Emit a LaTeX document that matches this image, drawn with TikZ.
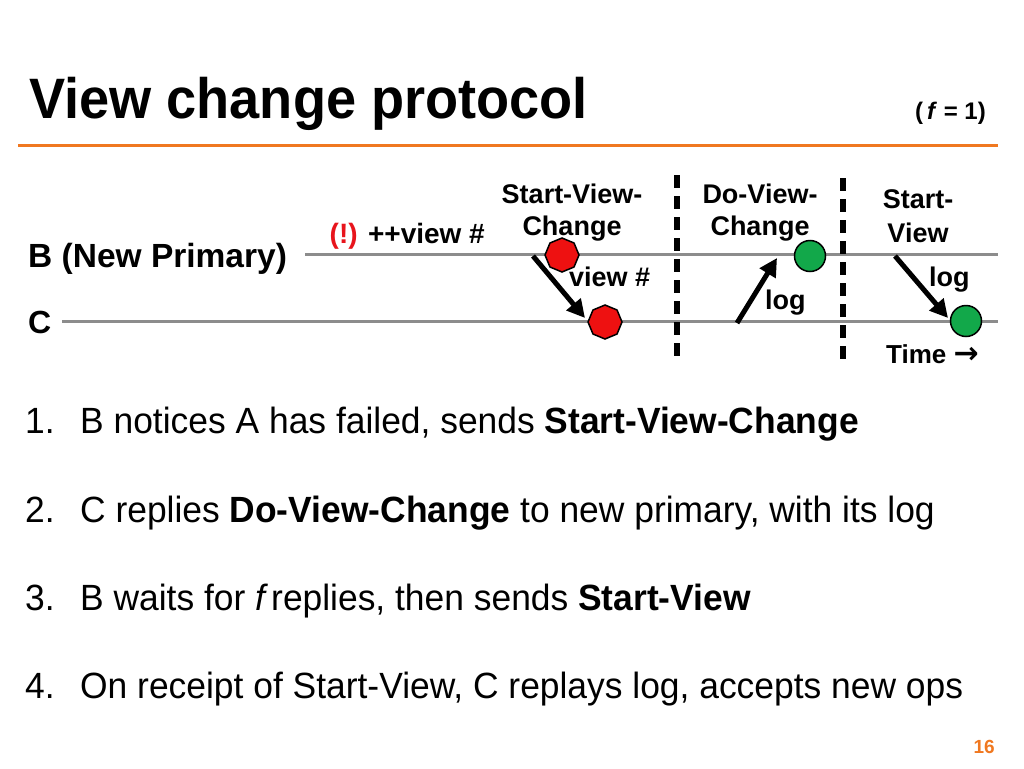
\documentclass[tikz,border=0pt]{standalone}
\usepackage{fontspec}
\setmainfont{Liberation Sans}
\newfontfamily\titlefont{Liberation Sans}[FakeStretch=0.95]
\newfontfamily\listfont{Liberation Sans}[FakeStretch=0.97]
\newfontfamily\arrowfont{DejaVu Sans}
\usetikzlibrary{arrows.meta,shapes.geometric}
\definecolor{orng}{HTML}{F07820}
\definecolor{lgrey}{HTML}{8C8C8C}
\definecolor{stopred}{HTML}{EE1111}
\definecolor{okgreen}{HTML}{12A84A}
\definecolor{bangred}{HTML}{E8141C}
\tikzset{
  lbl/.style={font=\fontsize{27}{32}\selectfont\bfseries, inner sep=0pt, align=center},
  tline/.style={draw=lgrey, line width=3pt},
  sep/.style={line width=5.5pt, dash pattern=on 13pt off 8pt},
  msg/.style={line width=5pt, -{Triangle[length=18pt,width=18pt]}},
  stopoct/.style={regular polygon, regular polygon sides=8, shape border rotate=22.5, fill=stopred, draw=black, line width=1.5pt, minimum size=34pt, inner sep=0pt},
  okdot/.style={circle, fill=okgreen, draw=black, line width=1.5pt, minimum size=31pt, inner sep=0pt},
  item/.style={font=\listfont\fontsize{36.5}{38}\selectfont, inner sep=0pt, anchor=base west},
}
\begin{document}
\begin{tikzpicture}[x=1pt,y=-1pt]
\useasboundingbox (0,0) rectangle (1024,768);
\fill[white] (0,0) rectangle (1024,768);
% title
\node[inner sep=0pt, anchor=base west, font=\titlefont\fontsize{57}{60}\selectfont\bfseries] (title) at (29,118) {View change protocol};
\node[inner sep=0pt, anchor=base east, font=\fontsize{24}{26}\selectfont\bfseries] (fone) at (986,119) {(\,\textit{f} = 1)};
\coordinate (rl) at (18,145);
\coordinate (rr) at (998,145);
\draw[orng, line width=3pt] (rl) -- (rr);
% timelines
\node[lbl, anchor=base west, font=\fontsize{33.5}{36}\selectfont\bfseries] (Blbl) at (28,267) {B (New Primary)};
\node[lbl, anchor=base west, font=\fontsize{32}{34}\selectfont\bfseries] (Clbl) at (28,333) {C};
\coordinate (Bs) at (305,254);
\coordinate (Be) at (998,254);
\coordinate (Cs) at (62,321);
\coordinate (Ce) at (998,321);
\draw[tline] (Bs) -- (Be);
\draw[tline] (Cs) -- (Ce);
% separators
\coordinate (s1t) at (677,175);
\coordinate (s1b) at (677,362);
\coordinate (s2t) at (843,178);
\coordinate (s2b) at (843,362);
\draw[sep] (s1t) -- (s1b);
\draw[sep] (s2t) -- (s2b);
% labels
\node[lbl, anchor=base east, font=\fontsize{28}{30}\selectfont\bfseries] (bang) at (485,243) {\textcolor{bangred}{(!)} ++view \#};
\node[lbl, anchor=base] (svc) at (572,235) {Start-View-\\Change};
\node[lbl, anchor=base] (dvc) at (760,235) {Do-View-\\Change};
\node[lbl, anchor=base, font=\fontsize{27}{34}\selectfont\bfseries] (sv) at (918,242) {Start-\\View};
% arrows
\coordinate (a1s) at (533,256);
\coordinate (a1e) at (585,318);
\coordinate (a2s) at (737,323);
\coordinate (a2e) at (777,258);
\coordinate (a3s) at (895,256);
\coordinate (a3e) at (948,318);
\draw[msg] (a1s) -- (a1e);
\draw[msg] (a2s) -- (a2e);
\draw[msg] (a3s) -- (a3e);
% markers
\node[stopoct] (o1) at (562,255) {};
\node[stopoct] (o2) at (605,322) {};
\node[okdot] (g1) at (810,256) {};
\node[okdot] (g2) at (966,321) {};
\node[lbl, anchor=base west] (vn) at (569,286) {view \#};
\node[lbl, anchor=base west] (lg1) at (765,309) {log};
\node[lbl, anchor=base west] (lg2) at (929,286) {log};
\node[lbl, anchor=base west, font=\fontsize{26}{28}\selectfont\bfseries] (time) at (886,363) {Time {\arrowfont\bfseries\fontsize{30}{30}\selectfont→}};
% list
\node[item] (n1) at (25,433) {1.};
\node[item] (t1) at (80,433) {B notices A has failed, sends \textbf{Start-View-Change}};
\node[item] (n2) at (25,522) {2.};
\node[item] (t2) at (80,522) {C replies \textbf{Do-View-Change} to new primary, with its log};
\node[item] (n3) at (25,610) {3.};
\node[item] (t3) at (80,610) {B waits for \textit{f\,}replies, then sends \textbf{Start-View}};
\node[item] (n4) at (25,698) {4.};
\node[item] (t4) at (80,698) {On receipt of Start-View, C replays log, accepts new ops};
\node[inner sep=0pt, anchor=base east, text=orng, font=\fontsize{19}{21}\selectfont\bfseries] (pg) at (995,753) {16};
\end{tikzpicture}
\end{document}
